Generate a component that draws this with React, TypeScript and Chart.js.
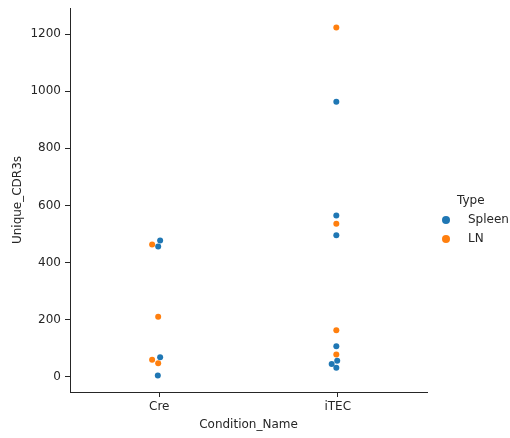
import React, { useEffect, useRef } from "react";
import { Chart, registerables } from "chart.js";

Chart.register(...registerables);

const categories = ["Cre", "iTEC"];
const yTickValues = [0, 200, 400, 600, 800, 1000, 1200];

const spleenCre = [477, 456, 69, 5];
const spleenCreJitter = [0.005, -0.006, 0.005, -0.008];
const lnCre = [463, 210, 60, 48];
const lnCreJitter = [-0.04, -0.006, -0.04, -0.006];

const spleenItec = [963, 565, 496, 107, 56, 45, 32];
const spleenItecJitter = [-0.008, -0.008, -0.008, -0.008, -0.003, -0.034, -0.008];
const lnItec = [1223, 536, 163, 78];
const lnItecJitter = [-0.008, -0.008, -0.008, -0.008];

const seriesNames = ["Spleen", "LN"];
const seriesColors = ["#1f77b4", "#ff7f0e"];
const legendTitle = "Type";
const xTitle = "Condition_Name";
const yTitle = "Unique_CDR3s";

const FONT = "'DejaVu Sans', sans-serif";
const TEXT = "#262626";

function pts(catIndex: number, values: number[], jitter: number[]) {
  return values.map((v, i) => ({ x: catIndex + jitter[i], y: v }));
}

const legendPlugin = {
  id: "customLegend",
  afterDraw(chart: any) {
    const ctx = chart.ctx;
    const area = chart.chartArea;
    const x0 = area.right + 19;
    const yMid = (area.top + area.bottom) / 2 + 1;
    ctx.save();
    ctx.font = `12px ${FONT}`;
    ctx.fillStyle = TEXT;
    ctx.textBaseline = "middle";
    ctx.textAlign = "left";
    ctx.fillText(legendTitle, x0 + 11, yMid);
    seriesNames.forEach((name, i) => {
      const y = yMid + 19 + i * 19;
      ctx.beginPath();
      ctx.arc(x0, y, 4, 0, Math.PI * 2);
      ctx.fillStyle = seriesColors[i];
      ctx.fill();
      ctx.fillStyle = TEXT;
      ctx.fillText(name, x0 + 22, y);
    });
    ctx.restore();
  },
};

export default function App() {
  const ref = useRef<HTMLCanvasElement | null>(null);

  useEffect(() => {
    if (!ref.current) return;
    const chart = new Chart(ref.current, {
      type: "scatter",
      data: {
        datasets: [
          {
            label: seriesNames[0],
            data: [...pts(0, spleenCre, spleenCreJitter), ...pts(1, spleenItec, spleenItecJitter)],
            backgroundColor: seriesColors[0],
            borderWidth: 0,
            pointRadius: 3,
          },
          {
            label: seriesNames[1],
            data: [...pts(0, lnCre, lnCreJitter), ...pts(1, lnItec, lnItecJitter)],
            backgroundColor: seriesColors[1],
            borderWidth: 0,
            pointRadius: 3,
          },
        ],
      },
      options: {
        responsive: false,
        animation: false,
        devicePixelRatio: 1,
        layout: { padding: { top: 8, right: 83, left: 0, bottom: 0 } },
        plugins: {
          legend: { display: false },
          tooltip: { enabled: false },
        },
        scales: {
          x: {
            type: "linear",
            min: -0.5,
            max: 1.5,
            afterBuildTicks: (scale: any) => {
              scale.ticks = categories.map((_, i) => ({ value: i }));
            },
            afterFit: (scale: any) => {
              scale.height = 46;
              scale.paddingLeft = 0;
              scale.paddingRight = 0;
            },
            ticks: {
              callback: (v: any) => categories[Math.round(Number(v))],
              font: { family: FONT, size: 12 },
              color: TEXT,
              padding: 3,
              maxRotation: 0,
            },
            grid: {
              display: true,
              drawOnChartArea: false,
              drawTicks: true,
              tickLength: 5,
              color: TEXT,
              lineWidth: 1,
            },
            border: { display: true, color: TEXT, width: 1 },
            title: {
              display: true,
              text: xTitle,
              font: { family: FONT, size: 12 },
              color: TEXT,
              padding: { top: 0, bottom: 6 },
            },
          },
          y: {
            type: "linear",
            min: -53,
            max: 1291,
            afterBuildTicks: (scale: any) => {
              scale.ticks = yTickValues.map((v) => ({ value: v }));
            },
            afterFit: (scale: any) => {
              scale.width = 70;
              scale.paddingTop = 0;
              scale.paddingBottom = 0;
            },
            ticks: {
              callback: (v: any) => String(v),
              font: { family: FONT, size: 12 },
              color: TEXT,
              padding: 4,
            },
            grid: {
              display: true,
              drawOnChartArea: false,
              drawTicks: true,
              tickLength: 5,
              color: TEXT,
              lineWidth: 1,
            },
            border: { display: true, color: TEXT, width: 1 },
            title: {
              display: true,
              text: yTitle,
              font: { family: FONT, size: 12 },
              color: TEXT,
              padding: { top: 11, bottom: 0 },
            },
          },
        },
      },
      plugins: [legendPlugin],
    } as any);
    return () => chart.destroy();
  }, []);

  return (
    <div style={{ position: "fixed", left: 0, top: 0, width: 510, height: 438, background: "#fff" }}>
      <canvas ref={ref} width={510} height={438} style={{ display: "block" }} />
    </div>
  );
}
